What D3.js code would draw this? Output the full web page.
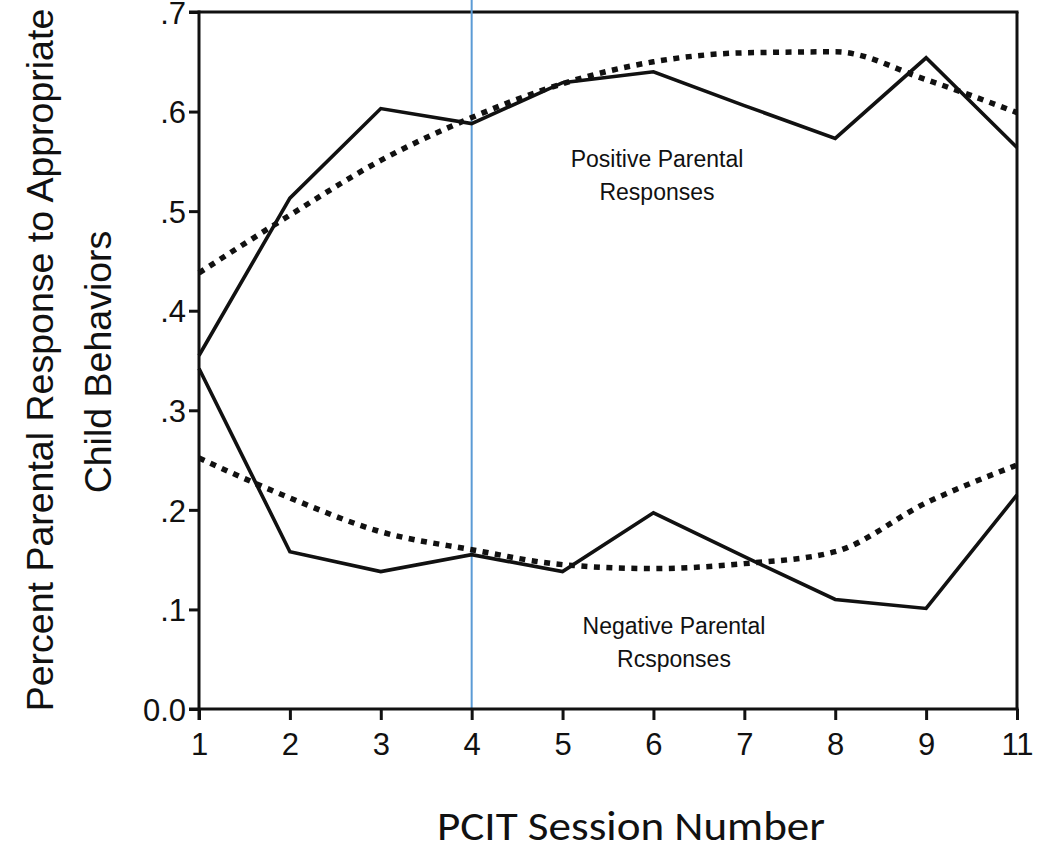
<html>
  <head>
    <script src="https://d3js.org/d3.v7.min.js"></script>
    <style>
      body { margin: 0; background: #fff; }
      text { font-family: "Liberation Sans", Arial, sans-serif; fill: #111; }
    </style>
  </head>
  <body>
    <script>
      var width = 1051
      var height = 850

      // data
      var sessions = ["1", "2", "3", "4", "5", "6", "7", "8", "9", "11"]
      var posObserved = [0.355, 0.513, 0.603, 0.588, 0.629, 0.640, 0.606, 0.573, 0.654, 0.564]
      var posTrend = [0.438, 0.496, 0.551, 0.594, 0.628, 0.650, 0.659, 0.660, 0.632, 0.599]
      var negObserved = [0.342, 0.158, 0.138, 0.155, 0.138, 0.197, 0.153, 0.110, 0.101, 0.215]
      var negTrend = [0.252, 0.212, 0.178, 0.160, 0.145, 0.141, 0.146, 0.158, 0.207, 0.245]
      var yTicks = [0, 0.1, 0.2, 0.3, 0.4, 0.5, 0.6, 0.7]
      var yTickLabels = ["0.0", ".1", ".2", ".3", ".4", ".5", ".6", ".7"]
      var markerSession = "4"

      var svg = d3.select("body").append("svg")
      .attr("width", width)
      .attr("height", height);

      var plotL = 199, plotR = 1017, plotT = 12, plotB = 709

      var x = d3.scalePoint().domain(sessions).range([plotL, plotR])
      var y = d3.scaleLinear().domain([0, 0.7]).range([plotB, plotT])

      // frame: top and right lines
      svg.append('line')
      .attr('x1', plotL - 10).attr('x2', plotR + 1.5)
      .attr('y1', plotT).attr('y2', plotT)
      .style('stroke', '#111').style('stroke-width', 3)

      svg.append('line')
      .attr('x1', plotR).attr('x2', plotR)
      .attr('y1', plotT).attr('y2', plotB)
      .style('stroke', '#111').style('stroke-width', 3)

      // blue marker line
      svg.append('line')
      .attr('x1', x(markerSession)).attr('x2', x(markerSession))
      .attr('y1', 0).attr('y2', plotB)
      .style('stroke', '#5b9bd5').style('stroke-width', 2)

      // axes
      var yAxis = d3.axisLeft(y)
      .tickValues(yTicks)
      .tickFormat(function(d, i) { return yTickLabels[i]; })
      .tickSize(10).tickPadding(3)

      var gy = svg.append('g')
      .attr('transform', 'translate(' + plotL + ',0)')
      .call(yAxis)

      var xAxis = d3.axisBottom(x).tickSize(11).tickPadding(13)

      var gx = svg.append('g')
      .attr('transform', 'translate(0,' + plotB + ')')
      .call(xAxis)

      ;[gx, gy].forEach(function(g) {
        g.select('.domain').remove()
        g.selectAll('line').style('stroke', '#111').style('stroke-width', 3)
        g.selectAll('text').style('font-size', '31px').style('fill', '#111')
          .style('font-family', '"Liberation Sans", Arial, sans-serif')
      })
      gx.selectAll('text').attr('dy', '0.72em')
      gy.selectAll('text').attr('dy', '0.36em')

      svg.append('line')
      .attr('x1', plotL).attr('x2', plotL)
      .attr('y1', plotT - 1.5).attr('y2', plotB + 11)
      .style('stroke', '#111').style('stroke-width', 3)

      svg.append('line')
      .attr('x1', plotL - 10).attr('x2', plotR + 1.5)
      .attr('y1', plotB).attr('y2', plotB)
      .style('stroke', '#111').style('stroke-width', 3)

      // lines
      var solid = d3.line()
      .x(function(d, i) { return x(sessions[i]); })
      .y(function(d) { return y(d); })

      var smooth = d3.line()
      .x(function(d, i) { return x(sessions[i]); })
      .y(function(d) { return y(d); })
      .curve(d3.curveMonotoneX)

      ;[posObserved, negObserved].forEach(function(s) {
        svg.append('path')
        .attr('d', solid(s))
        .style('fill', 'none')
        .style('stroke', '#111')
        .style('stroke-width', 3.6)
        .style('stroke-linejoin', 'miter')
      })

      ;[posTrend, negTrend].forEach(function(s) {
        svg.append('path')
        .attr('d', smooth(s))
        .style('fill', 'none')
        .style('stroke', '#111')
        .style('stroke-width', 5.5)
        .style('stroke-dasharray', '6,6.5')
      })

      // annotations
      var notes = [
        { t: "Positive Parental", x: 657, y: 167 },
        { t: "Responses", x: 657, y: 200 },
        { t: "Negative Parental", x: 674, y: 634 },
        { t: "Rcsponses", x: 674, y: 667 }
      ]
      notes.forEach(function(n) {
        svg.append('text')
        .attr('x', n.x).attr('y', n.y)
        .attr('text-anchor', 'middle')
        .style('font-size', '23px')
        .text(n.t)
      })

      // y title
      svg.append('text')
      .attr('transform', 'translate(53,360) rotate(-90)')
      .attr('text-anchor', 'middle')
      .style('font-size', '37.5px')
      .text('Percent Parental Response to Appropriate')

      svg.append('text')
      .attr('transform', 'translate(111,362) rotate(-90)')
      .attr('text-anchor', 'middle')
      .style('font-size', '37.5px')
      .text('Child Behaviors')

      // x title
      svg.append('text')
      .attr('x', 631).attr('y', 840)
      .attr('text-anchor', 'middle')
      .attr('textLength', 388)
      .attr('lengthAdjust', 'spacingAndGlyphs')
      .style('font-family', 'Carlito, "Open Sans", sans-serif')
      .style('font-size', '41px')
      .text('PCIT Session Number')
    </script>
  </body>
</html>
